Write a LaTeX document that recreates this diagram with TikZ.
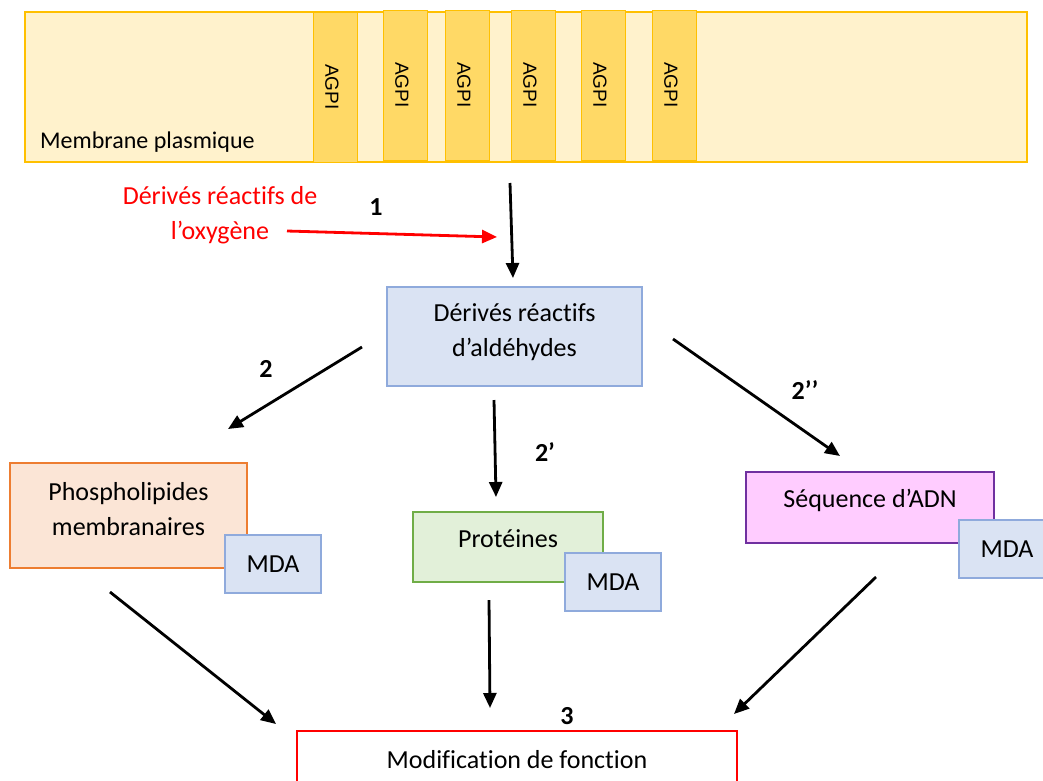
\documentclass[tikz,border=0pt]{standalone}
\usepackage{fontspec}
\setmainfont{Carlito}[Ligatures=NoCommon]
\newfontfamily\arialfont{Liberation Sans}
\usetikzlibrary{arrows.meta}
\definecolor{memfill}{HTML}{FFF2CC}
\definecolor{memdraw}{HTML}{FFC000}
\definecolor{agfill}{HTML}{FFD966}
\definecolor{bluefill}{HTML}{DAE3F3}
\definecolor{bluedraw}{HTML}{8FAADC}
\definecolor{orfill}{HTML}{FBE5D6}
\definecolor{ordraw}{HTML}{ED7D31}
\definecolor{grfill}{HTML}{E2F0D9}
\definecolor{grdraw}{HTML}{70AD47}
\definecolor{pkfill}{HTML}{FFCCFF}
\definecolor{pkdraw}{HTML}{7030A0}
\definecolor{myred}{HTML}{FF0000}
\tikzset{
  box/.style={rectangle, inner sep=0pt, line width=1.2pt},
  agpibox/.style={box, fill=agfill, draw=memdraw, line width=1pt, minimum width=44pt, minimum height=150pt},
  agpitext/.style={rotate=-90, font=\arialfont\fontsize{19}{23}\selectfont, inner sep=0pt},
  txt/.style={font=\fontsize{26}{35}\selectfont, align=center, inner sep=0pt},
  num/.style={font=\fontsize{26}{30}\selectfont\bfseries, inner sep=0pt},
  mda/.style={box, fill=bluefill, draw=bluedraw, minimum width=96pt, minimum height=58pt, font=\fontsize{26}{30}\selectfont},
  arr/.style={line width=2.8pt, -{Triangle[length=15pt,width=13pt]}},
  redarr/.style={line width=2.8pt, draw=myred, -{Triangle[length=15pt,width=13pt]}, color=myred},
}
\begin{document}
\begin{tikzpicture}[x=1pt,y=-1pt]
\useasboundingbox (0,0) rectangle (1043,780);
\fill[white] (0,0) rectangle (1043,780);
% membrane
\node[box, fill=memfill, draw=memdraw, line width=2.2pt, minimum width=1002pt, minimum height=150pt] (mem) at (526,87) {};
\node[font=\fontsize{24}{28}\selectfont, anchor=base west, inner sep=0pt] (memtxt) at (40,148) {Membrane plasmique};
\node[agpibox] (g1) at (335,87) {};
\node[agpibox] (g2) at (405,85) {};
\node[agpibox] (g3) at (467,85) {};
\node[agpibox] (g4) at (533,85) {};
\node[agpibox] (g5) at (603,85) {};
\node[agpibox] (g6) at (674,85) {};
\node[agpitext] at (332,87) {AGPI};
\node[agpitext] at (402,85) {AGPI};
\node[agpitext] at (464,85) {AGPI};
\node[agpitext] at (530,85) {AGPI};
\node[agpitext] at (600,85) {AGPI};
\node[agpitext] at (671,85) {AGPI};
% red text
\node[txt, text=myred] (ros) at (220,215) {Dérivés réactifs de\\l’oxygène};
\node[num] (n1) at (376,207) {1};
% aldehydes
\node[box, fill=bluefill, draw=bluedraw, minimum width=255pt, minimum height=99pt] (ald) at (514.5,336.5) {};
\node[txt] (aldtxt) at (514.5,332) {Dérivés réactifs\\d’aldéhydes};
% targets
\node[box, fill=orfill, draw=ordraw, minimum width=237pt, minimum height=105pt] (phos) at (128.5,515.5) {};
\node[txt] (phostxt) at (128.5,509) {Phospholipides\\membranaires};
\node[mda] (mda1) at (273,564) {MDA};
\node[box, fill=grfill, draw=grdraw, minimum width=190pt, minimum height=70pt] (prot) at (508,547) {};
\node[txt] (prottxt) at (508,539) {Protéines};
\node[mda] (mda2) at (613,582) {MDA};
\node[box, fill=pkfill, draw=pkdraw, minimum width=248pt, minimum height=71pt] (seq) at (870,507.5) {};
\node[txt] (seqtxt) at (870,500) {Séquence d’ADN};
\node[mda] (mda3) at (1007,549) {MDA};
% result
\node[box, draw=myred, line width=2.2pt, fill=white, minimum width=440pt, minimum height=58pt] (mod) at (517,760) {};
\node[txt] (modtxt) at (517,760) {Modification de fonction};
% labels
\node[num] (n2) at (266,369) {2};
\node[num] (n2a) at (545,452) {2’};
\node[num] (n2b) at (805,390) {2’’};
\node[num] (n3) at (567,716) {3};
% coordinates
\coordinate (r0) at (287,231); \coordinate (r1) at (497,237);
\coordinate (a0) at (510,183); \coordinate (a1) at (513,278);
\coordinate (b0) at (362,347); \coordinate (b1) at (228,429);
\coordinate (c0) at (494,400); \coordinate (c1) at (496,497);
\coordinate (d0) at (673,339); \coordinate (d1) at (840,456);
\coordinate (e0) at (110,592); \coordinate (e1) at (276,724);
\coordinate (f0) at (489,600); \coordinate (f1) at (490,708);
\coordinate (h0) at (876,577); \coordinate (h1) at (734,714);
\draw[redarr] (r0) -- (r1);
\draw[arr] (a0) -- (a1);
\draw[arr] (b0) -- (b1);
\draw[arr] (c0) -- (c1);
\draw[arr] (d0) -- (d1);
\draw[arr] (e0) -- (e1);
\draw[arr] (f0) -- (f1);
\draw[arr] (h0) -- (h1);
\end{tikzpicture}
\end{document}
